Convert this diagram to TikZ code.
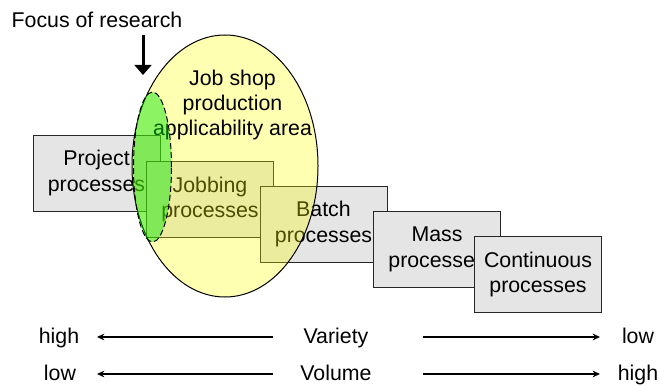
\documentclass[tikz,border=0pt]{standalone}
\usepackage{fontspec}
\setmainfont{Liberation Sans}
\usetikzlibrary{arrows.meta,shapes.geometric}
\definecolor{areayellow}{RGB}{255,255,0}
\definecolor{focusgreen}{RGB}{0,230,0}
\tikzset{procbox/.style={draw=black!85, fill=black!10, line width=0.75pt, minimum width=95.25pt, minimum height=57pt, inner sep=0pt, align=center},
  scalearrow/.style={-{Stealth[length=5.5pt,width=5pt]}, line width=0.9pt}}

\begin{document}
\begin{tikzpicture}[x=0.75pt,y=-0.75pt,font=\fontsize{16}{19}\selectfont]
\useasboundingbox (0,0) rectangle (660,385);
\node[procbox] (project) at (96.5,173) {Project\\processes};
\node[procbox] (jobbing) at (210,199.5) {Jobbing\\processes};
\node[procbox] (batch) at (323.5,224) {Batch\\processes};
\node[procbox] (mass) at (437,249.5) {Mass\\processes};
\node[procbox] (contin) at (538,274.5) {Continuous\\processes};

\node[ellipse, draw, line width=0.75pt, fill=areayellow, fill opacity=0.3, minimum width=139.5pt, minimum height=196.5pt, inner sep=0pt] (jobshop) at (225,166) {};
\node[align=center] (jobshop-txt) at (232.5,105) {Job shop\\production\\applicability area};
\node[ellipse, draw, line width=0.75pt, dash pattern=on 4.5pt off 2.25pt, fill=focusgreen, fill opacity=0.45, minimum width=28.5pt, minimum height=112.5pt, inner sep=0pt] (focusarea) at (152.5,167) {};

\node (focus) at (97,20) {Focus of research};
\coordinate (focus-top) at (143,35);
\coordinate (focus-tip) at (143,75);
\draw[-{Triangle[length=7.5pt,width=12.5pt]}, line width=2.25pt] (focus-top) -- (focus-tip);

\node[anchor=base] (variety) at (336,343) {Variety};
\node[anchor=base] (var-high) at (59,343) {high};
\node[anchor=base] (var-low) at (638,343) {low};
\coordinate (var-1) at (273,337);
\coordinate (var-2) at (97,337);
\coordinate (var-3) at (423,337);
\coordinate (var-4) at (600,337);
\draw[scalearrow] (var-1) -- (var-2);
\draw[scalearrow] (var-3) -- (var-4);

\node[anchor=base] (volume) at (336,380) {Volume};
\node[anchor=base] (vol-low) at (60,380) {low};
\node[anchor=base] (vol-high) at (638,380) {high};
\coordinate (vol-1) at (273,374);
\coordinate (vol-2) at (97,374);
\coordinate (vol-3) at (423,374);
\coordinate (vol-4) at (600,374);
\draw[scalearrow] (vol-1) -- (vol-2);
\draw[scalearrow] (vol-3) -- (vol-4);
\end{tikzpicture}
\end{document}
